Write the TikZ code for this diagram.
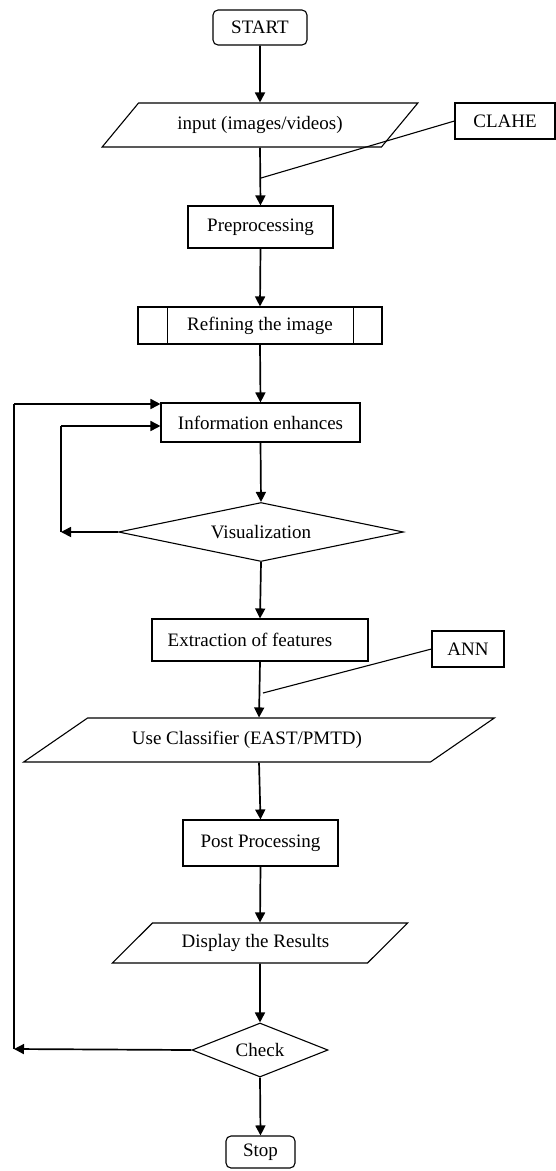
\documentclass[tikz,border=0pt]{standalone}
\usepackage{fontspec}
\setmainfont{Liberation Serif}
\usetikzlibrary{arrows.meta,shapes.geometric}
\begin{document}
\begin{tikzpicture}[x=1pt,y=-1pt,
  every node/.style={font=\fontsize{19}{22}\selectfont, inner sep=0pt},
  box/.style={draw, line width=1.1pt, rectangle},
  rbox/.style={box, rounded corners=5pt},
  para/.style={draw, line width=1.1pt, trapezium, trapezium stretches=true},
  dia/.style={draw, line width=1.1pt, diamond},
  arr/.style={line width=1.7pt, -{Triangle[length=10pt,width=10pt]}},
  ln/.style={line width=1.7pt},
  thin/.style={line width=1.1pt}]
\useasboundingbox (0,0) rectangle (556,1171);

\node[rbox, minimum width=94, minimum height=35] (start) at (260,27.5) {START};
\node[para, trapezium left angle=34.93, trapezium right angle=145.07,
      minimum width=316, minimum height=44] (inp) at (260,125) {input (images/videos)};
\node[box, minimum width=100, minimum height=36] (clahe) at (505,121) {CLAHE};
\node[box, minimum width=145, minimum height=42] (prep) at (260.5,227) {Preprocessing};
\node[box, minimum width=244, minimum height=37] (ref) at (260,325.5) {Refining the image};
\draw[thin] ([xshift=30]ref.north west) -- ([xshift=30]ref.south west);
\draw[thin] ([xshift=-29]ref.north east) -- ([xshift=-29]ref.south east);
\node[box, minimum width=199, minimum height=39] (info) at (260.5,422.5) {Information enhances};
\node[dia, aspect=4.83, minimum width=285, minimum height=59] (vis) at (261,532) {Visualization};
\node[box, minimum width=216, minimum height=42] (ext) at (260,640) {\hspace*{-20pt}Extraction of features};
\node[box, minimum width=72, minimum height=36] (ann) at (468,649) {ANN};
\node[para, trapezium left angle=24.4, trapezium right angle=155.6,
      minimum width=472, minimum height=44] (cls) at (259,740) {\hspace*{-24pt}Use Classifier (EAST/PMTD)};
\node[box, minimum width=155, minimum height=46] (post) at (260.5,843) {Post Processing};
\node[para, trapezium left angle=33.7, trapezium right angle=146.3,
      minimum width=296, minimum height=40] (disp) at (260,943) {\hspace*{-9pt}Display the Results};
\node[dia, aspect=2.5, minimum width=136, minimum height=54] (check) at (260,1050) {Check};
\node[rbox, minimum width=69, minimum height=32] (stop) at (260.5,1152) {Stop};

\coordinate (j1) at (261,178);
\coordinate (j2) at (263,693);
\coordinate (c1) at (14,1049);
\coordinate (c2) at (14,404);
\coordinate (c3) at (61,532);
\coordinate (c4) at (61,426);

\draw[arr] (start.south) -- (inp.north);
\draw[arr] (inp.south) -- (prep.north);
\draw[thin] (clahe.west) -- (j1);
\draw[arr] (prep.south) -- (ref.north);
\draw[arr] (ref.south) -- (info.north);
\draw[arr] (info.south) -- (vis.north);
\draw[arr] (vis.south) -- (ext.north);
\draw[arr] (ext.south) -- (cls.north);
\draw[thin] (ann.west) -- (j2);
\draw[arr] (cls.south) -- (post.north);
\draw[arr] (post.south) -- (disp.north);
\draw[arr] (disp.south) -- (check.north);
\draw[arr] (check.south) -- (stop.north);

\draw[arr] (check.west) -- (c1);
\draw[ln] (c1) -- (c2);
\draw[arr] (c2) -- (info.west |- c2);
\draw[arr] (vis.west) -- (c3);
\draw[ln] (c3) -- (c4);
\draw[arr] (c4) -- (info.west |- c4);
\end{tikzpicture}
\end{document}
